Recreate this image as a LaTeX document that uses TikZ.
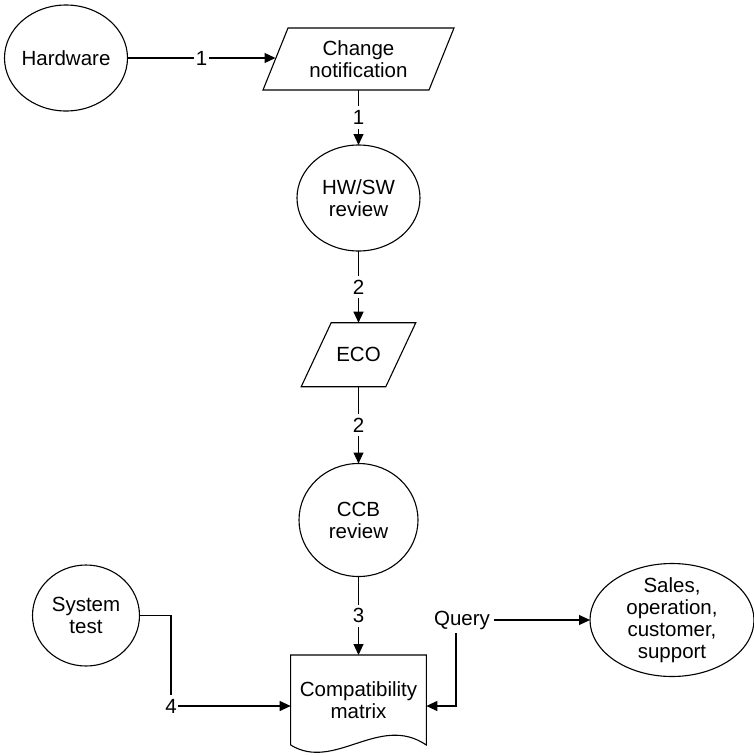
\documentclass[tikz,border=0pt]{standalone}
\usepackage{fontspec}
\setmainfont{Liberation Sans}
\usetikzlibrary{shapes.geometric,arrows.meta}
\begin{document}
\begin{tikzpicture}[x=1pt,y=-1pt,
  every node/.style={font=\fontsize{20.5}{22}\selectfont, align=center},
  line/.style={line width=1.1pt},
  arr/.style={line, -{Triangle[length=11pt,width=10pt]}},
  oval/.style={draw, line width=1.1pt, ellipse, inner sep=0pt, outer sep=0pt},
  box/.style={inner sep=0pt, outer sep=0pt},
  num/.style={fill=white, inner xsep=1.5pt, inner ysep=4pt}
]
\useasboundingbox (0,0) rectangle (754,756);

% shapes (ellipses carry their text in separate centred nodes)
\node[oval, minimum width=123pt, minimum height=106pt] (hw) at (66,58) {};
\node (hwtext) at (hw) {Hardware};
\node[box, minimum width=166pt, minimum height=62pt] (cn) at (358.5,59) {Change\\notification};
\node[oval, minimum width=123pt, minimum height=106pt] (rev) at (358.5,198) {};
\node (revtext) at (rev) {HW/SW\\review};
\node[box, minimum width=84.6pt, minimum height=64pt] (eco) at (358.5,354.7) {ECO};
\node[oval, minimum width=119pt, minimum height=113pt] (ccb) at (358.5,520) {};
\node (ccbtext) at (ccb) {CCB\\review};
\node[oval, minimum width=107pt, minimum height=101pt] (sys) at (86,615.5) {};
\node (systext) at (sys) {System\\test};
\node[box, minimum width=135.7pt, minimum height=90pt] (mat) at (358.5,700) {Compatibility\\matrix};
\node[oval, minimum width=164pt, minimum height=113pt] (sales) at (672,620) {};
\node (salestext) at (sales) {Sales,\\operation,\\customer,\\support};
\node[inner sep=4pt] (q) at (462,620) {Query};
\node[num] (n4) at (171,706) {4};

% parallelogram outlines
\draw[line] ([xshift=-12.5pt]cn.south west) -- ([xshift=12.5pt]cn.north west)
  -- ([xshift=12.5pt]cn.north east) -- ([xshift=-12.5pt]cn.south east) -- cycle;
\draw[line] ([xshift=-15pt]eco.south west) -- ([xshift=15pt]eco.north west)
  -- ([xshift=15pt]eco.north east) -- ([xshift=-15pt]eco.south east) -- cycle;

% document outline with wavy bottom
\draw[line] (mat.south west) -- (mat.north west) -- (mat.north east) -- (mat.south east)
  .. controls +(-47,-32) and +(44,27) .. (mat.south west);

% connectors
\draw[arr] (hw.east) -- node[num] {1} (hw.east -| cn.west);
\draw[arr] (cn) -- node[num] {1} (rev);
\draw[arr] (rev) -- node[num] {2} (eco);
\draw[arr] (eco) -- node[num] {2} (ccb);
\draw[arr] (ccb) -- node[num] {3} (mat);
\draw[line] (sys.east) -| (n4.north);
\draw[arr] (n4.east) -- (n4 -| mat.west);
\draw[arr] (q.east) -- (q -| sales.west);
\draw[arr] ([xshift=-6pt]q.south) |- (n4 -| mat.east);
\end{tikzpicture}
\end{document}
